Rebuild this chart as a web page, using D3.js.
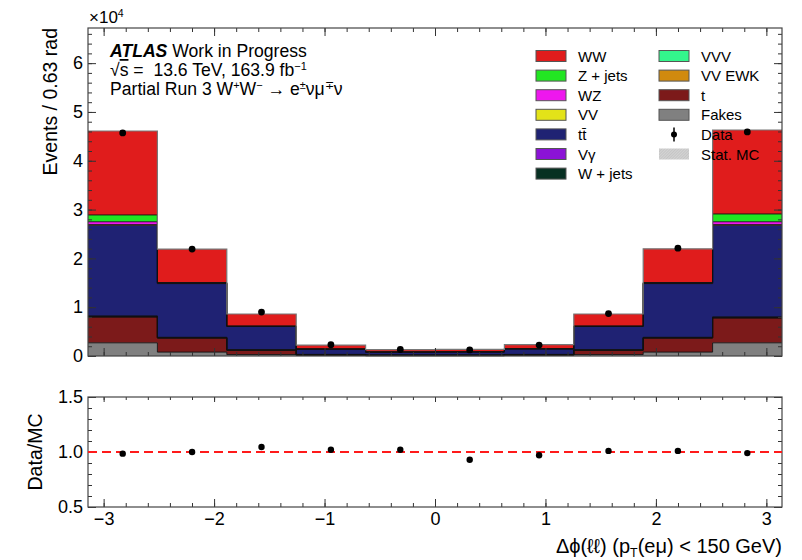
<!DOCTYPE html>
<html>
<head>
<meta charset="utf-8">
<script src="https://cdn.jsdelivr.net/npm/d3@7"></script>
<style>
  body { margin: 0; background: #fff; }
  svg { display: block; font-family: "Liberation Sans", Arial, Helvetica, sans-serif; }
  svg text { white-space: pre; }
</style>
</head>
<body>
<script>
// bin edges of delta phi (10 bins of 0.63 rad)
const binEdges = [-3.1416, -2.5133, -1.8850, -1.2566, -0.6283, 0, 0.6283, 1.2566, 1.8850, 2.5133, 3.1416];

// stacked MC, events per bin (bottom -> top)
const fakes  = [2700, 800, 300, 100, 50, 50, 100, 300, 800, 2700];
const singleTop = [5300, 2900, 900, 200, 100, 100, 200, 900, 2900, 5100];
const vvEwk  = [30, 15, 5, 2, 1, 1, 2, 5, 15, 30];
const vvv    = [20, 10, 5, 2, 1, 1, 2, 5, 10, 20];
const wjets  = [60, 30, 15, 5, 3, 3, 5, 15, 30, 60];
const vgamma = [100, 80, 30, 8, 5, 5, 8, 30, 80, 100];
const ttbar  = [18590, 11000, 4800, 1100, 650, 680, 1150, 4800, 11000, 18790];
const vv     = [100, 60, 20, 5, 3, 3, 5, 20, 60, 100];
const wz     = [600, 100, 30, 8, 5, 5, 8, 30, 100, 600];
const zjets  = [1400, 60, 20, 5, 2, 2, 5, 20, 60, 1600];
const ww     = [17200, 6850, 2480, 800, 480, 500, 830, 2480, 6900, 17200];

const dataCounts = [45700, 21900, 9000, 2300, 1330, 1250, 2230, 8700, 22100, 45900];
const ratioVals  = [0.985, 1.00, 1.045, 1.02, 1.02, 0.93, 0.97, 1.01, 1.01, 0.99];

const mainTicks  = [0, 1, 2, 3, 4, 5, 6];          // x 10^4
const ratioTicks = [0.5, 1.0, 1.5];
const xTicks     = [-3, -2, -1, 0, 1, 2, 3];

const layers = [
  {key: "fakes",  label: "Fakes",    color: "#808080", vals: fakes},
  {key: "top",    label: "t",        color: "#7c1a1a", vals: singleTop},
  {key: "vvEwk",  label: "VV EWK",   color: "#d18a0e", vals: vvEwk},
  {key: "vvv",    label: "VVV",      color: "#33f58c", vals: vvv},
  {key: "wjets",  label: "W + jets", color: "#073022", vals: wjets},
  {key: "vgamma", label: "Vγ",       color: "#8b13d6", vals: vgamma},
  {key: "ttbar",  label: "tt̄",       color: "#1f2273", vals: ttbar},
  {key: "vv",     label: "VV",       color: "#e3e319", vals: vv},
  {key: "wz",     label: "WZ",       color: "#ee17ee", vals: wz},
  {key: "zjets",  label: "Z + jets", color: "#22e622", vals: zjets},
  {key: "ww",     label: "WW",       color: "#e01c1c", vals: ww}
];
const legendCol1 = ["ww", "zjets", "wz", "vv", "ttbar", "vgamma", "wjets"];
const legendCol2 = ["vvv", "vvEwk", "top", "fakes", "data", "stat"];

const width = 802, height = 560;
const L = 88, R = 782;
const mainTop = 28, mainBot = 356, ratTop = 397, ratBot = 507;
const font = 18;

const svg = d3.select("body").append("svg")
  .attr("width", width).attr("height", height);

const defs = svg.append("defs");
const hatch = defs.append("pattern")
  .attr("id", "hatch").attr("patternUnits", "userSpaceOnUse")
  .attr("width", 2).attr("height", 2).attr("patternTransform", "rotate(45)");
hatch.append("rect").attr("width", 2).attr("height", 2).attr("fill", "#d4d4d4");
hatch.append("line").attr("x1", 0).attr("y1", 0).attr("x2", 0).attr("y2", 2)
  .attr("stroke", "#b0b0b0").attr("stroke-width", 0.8);

const x = d3.scaleLinear().domain([-Math.PI, Math.PI]).range([L, R]);
const y = d3.scaleLinear().domain([0, 67200]).range([mainBot, mainTop]);
const yr = d3.scaleLinear().domain([0.5, 1.5]).range([ratBot, ratTop]);

// stack
const rows = binEdges.slice(0, -1).map((e, i) => {
  let r = {i: i, x0: e, x1: binEdges[i + 1]};
  layers.forEach(l => r[l.key] = l.vals[i]);
  return r;
});
const stack = d3.stack().keys(layers.map(l => l.key))(rows);

function stepPoints(series) {
  let pts = [];
  series.forEach(d => {
    pts.push({x: d.data.x0, lo: d[0], hi: d[1]});
    pts.push({x: d.data.x1, lo: d[0], hi: d[1]});
  });
  return pts;
}
const area = d3.area().x(d => x(d.x)).y0(d => y(d.lo)).y1(d => y(d.hi));
const topLine = d3.line().x(d => x(d.x)).y(d => y(d.hi));

const gStack = svg.append("g");
stack.forEach((s, k) => {
  gStack.append("path").attr("d", area(stepPoints(s)))
    .attr("fill", layers[k].color).attr("stroke", "none");
});
stack.forEach((s, k) => {
  gStack.append("path").attr("d", topLine(stepPoints(s)))
    .attr("fill", "none")
    .attr("stroke", k === stack.length - 1 ? "#777" : "#111")
    .attr("stroke-width", k === stack.length - 1 ? 1.2 : 0.9);
});

// data points
svg.append("g").selectAll("circle")
  .data(dataCounts)
  .enter().append("circle")
    .attr("cx", (d, i) => x((binEdges[i] + binEdges[i + 1]) / 2))
    .attr("cy", d => y(d))
    .attr("r", 3.4)
    .attr("fill", "#000");

// axes helpers
function minorRange(a, b, step) {
  return d3.range(Math.round((b - a) / step) + 1).map(i => +(a + i * step).toFixed(6));
}
function clean(g) { g.select(".domain").remove(); g.selectAll("line").attr("stroke", "#333"); }

const xMinor = minorRange(-3.2, 3.2, 0.2).filter(v => v > -Math.PI && v < Math.PI);

function addAxis(axis, tx, ty) {
  const g = svg.append("g").attr("transform", `translate(${tx},${ty})`).call(axis).call(clean);
  g.selectAll("text").attr("font-size", font).attr("fill", "#000")
    .attr("font-family", "'Liberation Sans', Arial, sans-serif");
  return g;
}

// main panel axes
addAxis(d3.axisBottom(x).tickValues(xTicks).tickSize(-8).tickFormat(""), 0, mainBot);
addAxis(d3.axisBottom(x).tickValues(xMinor).tickSize(-4).tickFormat(""), 0, mainBot);
addAxis(d3.axisTop(x).tickValues(xTicks).tickSize(-8).tickFormat(""), 0, mainTop);
addAxis(d3.axisTop(x).tickValues(xMinor).tickSize(-4).tickFormat(""), 0, mainTop);

const yMajor = mainTicks.map(v => v * 1e4);
const yMinor = minorRange(0, 66000, 2000);
addAxis(d3.axisLeft(y).tickValues(yMajor).tickSize(-8).tickPadding(5).tickFormat(d => d / 1e4), L, 0);
addAxis(d3.axisLeft(y).tickValues(yMinor).tickSize(-4).tickFormat(""), L, 0);
addAxis(d3.axisRight(y).tickValues(yMajor).tickSize(-8).tickFormat(""), R, 0);
addAxis(d3.axisRight(y).tickValues(yMinor).tickSize(-4).tickFormat(""), R, 0);

// ratio panel axes
addAxis(d3.axisBottom(x).tickValues(xTicks).tickSize(-8).tickPadding(5).tickFormat(d3.format("d")), 0, ratBot);
addAxis(d3.axisBottom(x).tickValues(xMinor).tickSize(-4).tickFormat(""), 0, ratBot);
addAxis(d3.axisTop(x).tickValues(xTicks).tickSize(-5).tickFormat(""), 0, ratTop);
addAxis(d3.axisTop(x).tickValues(xMinor).tickSize(-3).tickFormat(""), 0, ratTop);
const rMinor = minorRange(0.5, 1.5, 0.1);
addAxis(d3.axisLeft(yr).tickValues(ratioTicks).tickSize(-8).tickPadding(5).tickFormat(d3.format(".1f")), L, 0);
addAxis(d3.axisLeft(yr).tickValues(rMinor).tickSize(-4).tickFormat(""), L, 0);
addAxis(d3.axisRight(yr).tickValues(ratioTicks).tickSize(-8).tickFormat(""), R, 0);
addAxis(d3.axisRight(yr).tickValues(rMinor).tickSize(-4).tickFormat(""), R, 0);

// frames
[[mainTop, mainBot], [ratTop, ratBot]].forEach(([t, b]) => {
  svg.append("rect").attr("x", L).attr("y", t).attr("width", R - L).attr("height", b - t)
    .attr("fill", "none").attr("stroke", "#444").attr("stroke-width", 1.2);
});

// ratio: reference line + points
svg.append("line")
  .attr("x1", L).attr("x2", R).attr("y1", yr(1)).attr("y2", yr(1))
  .attr("stroke", "#ff1a1a").attr("stroke-width", 2).attr("stroke-dasharray", "9,5");
svg.append("g").selectAll("circle")
  .data(ratioVals)
  .enter().append("circle")
    .attr("cx", (d, i) => x((binEdges[i] + binEdges[i + 1]) / 2))
    .attr("cy", d => yr(d))
    .attr("r", 3.2)
    .attr("fill", "#000");

// rich text helper: parts = [[text, "sup"|"sub"|null, style]]
function rich(sel, parts, size) {
  let shift = 0;
  parts.forEach(p => {
    const [t, kind, style] = p;
    const target = kind === "sup" ? -0.33 * size : kind === "sub" ? 0.22 * size : 0;
    const ts = sel.append("tspan").text(t).attr("dy", target - shift);
    shift = target;
    if (kind) ts.attr("font-size", size * 0.62);
    if (style === "bi") ts.attr("font-weight", "bold").attr("font-style", "italic");
    if (style === "over") ts.style("text-decoration", "overline");
  });
  return sel;
}

// y labels
svg.append("text")
  .attr("transform", `translate(57,${mainTop}) rotate(-90)`)
  .attr("text-anchor", "end").attr("font-size", 19.5)
  .text("Events / 0.63 rad");
svg.append("text")
  .attr("transform", `translate(42,${(ratTop + ratBot) / 2}) rotate(-90)`)
  .attr("text-anchor", "middle").attr("font-size", 19.5)
  .text("Data/MC");

// x label
rich(svg.append("text").attr("x", R).attr("y", 553).attr("text-anchor", "end").attr("font-size", 20),
  [["Δϕ(ℓℓ) (p"], ["T", "sub"], ["(eμ) < 150 GeV)"]], 20);

// exponent
rich(svg.append("text").attr("x", 89).attr("y", 23).attr("font-size", 17),
  [["×10"], ["4", "sup"]], 17);

// ATLAS label
const lab = 17.6;
rich(svg.append("text").attr("x", 110).attr("y", 57).attr("font-size", lab),
  [["ATLAS", null, "bi"], [" Work in Progress"]], lab);
rich(svg.append("text").attr("x", 110).attr("y", 76).attr("font-size", lab),
  [["√"], ["s", null, "over"], [" =  13.6 TeV, 163.9 fb"], ["−1", "sup"]], lab);
rich(svg.append("text").attr("x", 110).attr("y", 95).attr("font-size", lab),
  [["Partial Run 3 W"], ["+", "sup"], ["W"], ["−", "sup"], [" → e"], ["±", "sup"], ["νμ"], ["∓", "sup"], ["ν"]], lab);

// legend
const legFont = 15;
const rowY = i => 56 + i * 19.6;
function legendEntry(key, colX, i) {
  const g = svg.append("g").attr("transform", `translate(${colX},${rowY(i)})`);
  let label;
  if (key === "data") {
    g.append("line").attr("x1", 15).attr("x2", 15).attr("y1", -7).attr("y2", 7)
      .attr("stroke", "#000").attr("stroke-width", 1.5);
    g.append("circle").attr("cx", 15).attr("cy", 0).attr("r", 3).attr("fill", "#000");
    label = "Data";
  } else if (key === "stat") {
    g.append("rect").attr("x", 0).attr("y", -5.5).attr("width", 30).attr("height", 11)
      .attr("fill", "url(#hatch)");
    label = "Stat. MC";
  } else {
    const l = layers.find(d => d.key === key);
    g.append("rect").attr("x", 0).attr("y", -5.5).attr("width", 30).attr("height", 11)
      .attr("fill", l.color).attr("stroke", "#555").attr("stroke-width", 1);
    label = l.label;
  }
  g.append("text").attr("x", 42).attr("y", 5.5).attr("font-size", legFont).text(label);
}
legendCol1.forEach((k, i) => legendEntry(k, 536, i));
legendCol2.forEach((k, i) => legendEntry(k, 659, i));
</script>
</body>
</html>
